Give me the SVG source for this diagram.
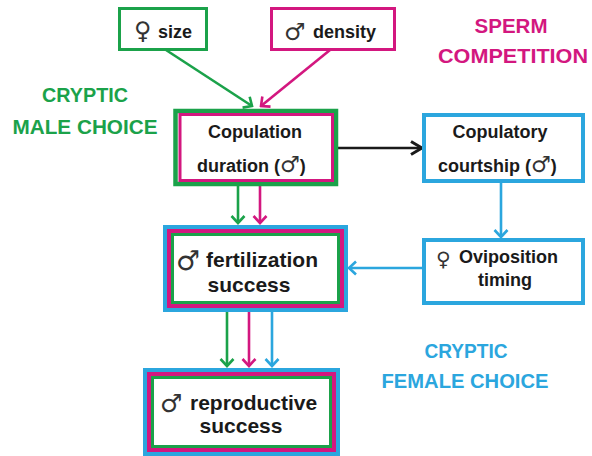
<svg xmlns="http://www.w3.org/2000/svg" width="592" height="456" viewBox="0 0 592 456">
  <style>
    .bg { fill: #ffffff; }
    .box { fill: #ffffff; }
    .g { stroke: #1ba24a; }
    .m { stroke: #d3177f; }
    .b { stroke: #2ba6de; }
    .k { stroke: #1a1a1a; }
    .w4 { stroke-width: 4; }
    .w3 { stroke-width: 3; }
    .edge { fill: none; stroke-width: 2.6; }
    .lbl { font-family: "Liberation Sans", Arial, sans-serif; font-weight: bold; fill: #1a1a1a; }
    .sym { font-family: "DejaVu Sans", sans-serif; font-weight: normal; fill: #333333; }
    .head { font-family: "Liberation Sans", Arial, sans-serif; font-weight: bold; font-size: 21px; text-anchor: middle; }
  </style>
  <defs>
    <marker id="ah-g" viewBox="-10 -8 12 16" markerWidth="12" markerHeight="16" refX="0" refY="0" orient="auto" markerUnits="userSpaceOnUse">
      <path d="M-7,-6.5 L0,0 L-7,6.5" fill="none" stroke="#1ba24a" stroke-width="2.6"/>
    </marker>
    <marker id="ah-m" viewBox="-10 -8 12 16" markerWidth="12" markerHeight="16" refX="0" refY="0" orient="auto" markerUnits="userSpaceOnUse">
      <path d="M-7,-6.5 L0,0 L-7,6.5" fill="none" stroke="#d3177f" stroke-width="2.6"/>
    </marker>
    <marker id="ah-b" viewBox="-10 -8 12 16" markerWidth="12" markerHeight="16" refX="0" refY="0" orient="auto" markerUnits="userSpaceOnUse">
      <path d="M-7,-6.5 L0,0 L-7,6.5" fill="none" stroke="#2ba6de" stroke-width="2.6"/>
    </marker>
    <marker id="ah-k" viewBox="-14 -8 16 16" markerWidth="16" markerHeight="16" refX="0" refY="0" orient="auto" markerUnits="userSpaceOnUse">
      <path d="M-11,-6.5 L0,0 L-11,6.5" fill="none" stroke="#1a1a1a" stroke-width="3"/>
    </marker>
  </defs>

  <rect class="bg" x="0" y="0" width="592" height="456"/>

  <!-- section headings -->
  <g id="headings">
    <text class="head" x="85" y="102" fill="#1ba24a" textLength="86" lengthAdjust="spacingAndGlyphs">CRYPTIC</text>
    <text class="head" x="85" y="134" fill="#1ba24a" textLength="145" lengthAdjust="spacingAndGlyphs">MALE CHOICE</text>
    <text class="head" x="511" y="33" fill="#d3177f" textLength="73" lengthAdjust="spacingAndGlyphs">SPERM</text>
    <text class="head" x="513" y="63" fill="#d3177f" textLength="150" lengthAdjust="spacingAndGlyphs">COMPETITION</text>
    <text class="head" x="466" y="358" fill="#2ba6de" textLength="83" lengthAdjust="spacingAndGlyphs">CRYPTIC</text>
    <text class="head" x="465" y="388" fill="#2ba6de" textLength="167" lengthAdjust="spacingAndGlyphs">FEMALE CHOICE</text>
  </g>

  <!-- connectors -->
  <g id="connectors">
    <line class="edge g" x1="166" y1="50" x2="252" y2="106" marker-end="url(#ah-g)"/>
    <line class="edge m" x1="330" y1="50" x2="261" y2="106" marker-end="url(#ah-m)"/>
    <line class="edge k" stroke-width="3" x1="338" y1="148" x2="422" y2="148" marker-end="url(#ah-k)"/>
    <line class="edge b" x1="501" y1="183" x2="501" y2="237" marker-end="url(#ah-b)"/>
    <line class="edge b" x1="422" y1="268" x2="349" y2="268" marker-end="url(#ah-b)"/>
    <line class="edge g" x1="238" y1="186" x2="238" y2="223" marker-end="url(#ah-g)"/>
    <line class="edge m" x1="260" y1="186" x2="260" y2="223" marker-end="url(#ah-m)"/>
    <line class="edge g" x1="227" y1="312" x2="227" y2="366" marker-end="url(#ah-g)"/>
    <line class="edge m" x1="249" y1="312" x2="249" y2="366" marker-end="url(#ah-m)"/>
    <line class="edge b" x1="272" y1="312" x2="272" y2="366" marker-end="url(#ah-b)"/>
  </g>

  <!-- female size -->
  <g id="female-size">
    <rect class="box g w3" x="119.5" y="8.5" width="87" height="41"/>
    <text class="sym" x="134" y="39" font-size="24">♀</text>
    <text class="lbl" x="158" y="38" font-size="18">size</text>
  </g>

  <!-- male density -->
  <g id="male-density">
    <rect class="box m w3" x="271.5" y="8.5" width="123" height="41"/>
    <text class="sym" x="284" y="40" font-size="24">♂</text>
    <text class="lbl" x="313" y="38" font-size="18">density</text>
  </g>

  <!-- copulation duration -->
  <g id="copulation-duration">
    <rect class="box g" stroke-width="4.5" x="175.5" y="111" width="160.5" height="73"/>
    <rect class="box m w3" x="180" y="114.5" width="152.5" height="66"/>
    <text class="lbl" x="255" y="138" font-size="18" text-anchor="middle">Copulation</text>
    <text class="lbl" x="197" y="172" font-size="18">duration (<tspan class="sym" font-size="22">♂</tspan>)</text>
  </g>

  <!-- copulatory courtship -->
  <g id="copulatory-courtship">
    <rect class="box b w4" x="424" y="115" width="159" height="66"/>
    <text class="lbl" x="500" y="138" font-size="18" text-anchor="middle">Copulatory</text>
    <text class="lbl" x="438" y="172" font-size="18">courtship (<tspan class="sym" font-size="22">♂</tspan>)</text>
  </g>

  <!-- oviposition timing -->
  <g id="oviposition-timing">
    <rect class="box b w4" x="424" y="240" width="159" height="63"/>
    <text class="sym" x="436" y="266" font-size="20">♀</text>
    <text class="lbl" x="459" y="263" font-size="18">Oviposition</text>
    <text class="lbl" x="505" y="286" font-size="18" text-anchor="middle">timing</text>
  </g>

  <!-- male fertilization success -->
  <g id="fertilization-success">
    <rect class="box b w4" x="165" y="227" width="181" height="83"/>
    <rect class="box m w4" x="169" y="231" width="173" height="75"/>
    <rect class="box g w3" x="172.5" y="234.5" width="166" height="68"/>
    <text class="sym" x="176" y="270" font-size="27">♂</text>
    <text class="lbl" x="206" y="267" font-size="21">fertilization</text>
    <text class="lbl" x="249" y="292" font-size="21" text-anchor="middle">success</text>
  </g>

  <!-- male reproductive success -->
  <g id="reproductive-success">
    <rect class="box b w4" x="145" y="370" width="193" height="84"/>
    <rect class="box m w4" x="149" y="374" width="185" height="76"/>
    <rect class="box g w3" x="152.5" y="377.5" width="178" height="69"/>
    <text class="sym" x="160" y="412" font-size="25">♂</text>
    <text class="lbl" x="190" y="410" font-size="21">reproductive</text>
    <text class="lbl" x="241" y="433" font-size="21" text-anchor="middle">success</text>
  </g>
</svg>
